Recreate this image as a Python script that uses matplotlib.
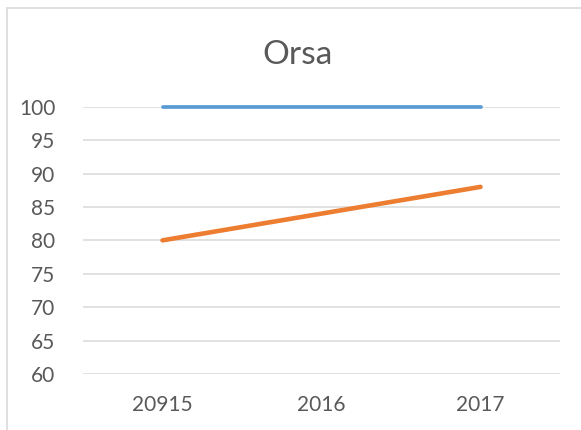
import matplotlib
matplotlib.use("Agg")
import matplotlib.pyplot as plt
from matplotlib.patches import Rectangle

# chart data
years = ["20915", "2016", "2017"]
blue_series = [100, 100, 100]
orange_series = [80, 84, 88]
y_ticks = [60, 65, 70, 75, 80, 85, 90, 95, 100]

plt.rcParams['font.family'] = ['Lato', 'DejaVu Sans']
text_color = "#595959"
grid_color = "#d9d9d9"

fig = plt.figure(figsize=(5.81, 4.30), dpi=100)

# outer chart frame (only left and top edges are visible in the crop)
frame = Rectangle((6.5 / 581, -0.1), 1.2, 1 - 8 / 430 + 0.1, transform=fig.transFigure,
                  fill=False, edgecolor=grid_color, linewidth=1.2)
fig.patches.append(frame)

ax = fig.add_axes([83 / 581, 1 - 374 / 430, 477 / 581, (374 - 106.7) / 430])

x = list(range(len(years)))
ax.plot(x, blue_series, color="#5b9bd5", linewidth=2.7, solid_capstyle="round", clip_on=False, zorder=3)
ax.plot(x, orange_series, color="#ed7d31", linewidth=3.3, solid_capstyle="round", clip_on=False, zorder=3)

ax.set_xlim(-0.5, len(years) - 0.5)
ax.set_ylim(60, 100)
ax.set_yticks(y_ticks)
ax.set_xticks(x)
ax.set_xticklabels(years)
ax.yaxis.grid(True, color=grid_color, linewidth=1.1)
ax.set_axisbelow(True)
for s in ax.spines.values():
    s.set_visible(False)
ax.tick_params(axis="both", length=0, labelsize=15, colors=text_color)
ax.tick_params(axis="y", pad=20)
ax.tick_params(axis="x", pad=15)

fig.text(297.5 / 581, 1 - 55 / 430, "Orsa", ha="center", va="center", fontsize=24, color=text_color)

fig.savefig("out.png", dpi=100)
